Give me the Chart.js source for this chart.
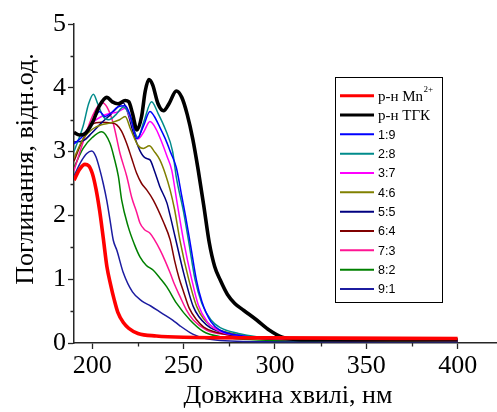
<!DOCTYPE html>
<html>
<head>
<meta charset="utf-8">
<script src="https://cdn.jsdelivr.net/npm/chart.js@4.4.1/dist/chart.umd.min.js"></script>
<style>
  html, body { margin: 0; padding: 0; background: #fff; }
  #wrap { width: 497px; height: 412px; }
</style>
</head>
<body>
<div id="wrap"><canvas id="c" width="497" height="412"></canvas></div>
<script>
// Absorption spectra of Mn2+ solution, TGK solution and their mixtures (ratios)
const seriesLabels = ['р-н Mn^2+', 'р-н ТГК', '1:9', '2:8', '3:7', '4:6', '5:5', '6:4', '7:3', '8:2', '9:1'];
const seriesColors = ['#ff0000', '#000000', '#0000ff', '#008b8b', '#ff00ff', '#808000', '#000080', '#800000', '#ff1493', '#008000', '#1c1ca0'];

const mnWl  = [190, 193, 196, 198, 200, 202, 204, 206, 208, 210, 212, 214, 217, 220, 225, 235, 250, 300, 400];
const mnAbs = [2.55, 2.72, 2.80, 2.78, 2.66, 2.42, 2.08, 1.65, 1.20, 0.92, 0.68, 0.48, 0.32, 0.23, 0.15, 0.11, 0.09, 0.08, 0.07];

const tgkWl  = [190, 193, 196, 200, 204, 208, 211, 214, 218, 220, 222, 224.5, 227, 229, 231, 233, 236, 239, 242, 246, 249, 252, 255, 258, 261, 264, 267, 270, 274, 278, 283, 290, 297, 304, 310, 320, 400];
const tgkAbs = [3.30, 3.26, 3.28, 3.45, 3.72, 3.85, 3.78, 3.75, 3.80, 3.78, 3.60, 3.34, 3.55, 3.95, 4.13, 4.05, 3.75, 3.64, 3.75, 3.95, 3.85, 3.58, 3.20, 2.71, 2.16, 1.58, 1.20, 0.99, 0.76, 0.62, 0.51, 0.36, 0.20, 0.09, 0.06, 0.05, 0.05];

const r19Wl  = [190, 195, 200, 204, 207, 210, 214, 218, 221, 224.5, 228, 231.6, 234, 237, 240, 243, 246, 249, 251, 254, 257, 260, 265, 270, 280, 300, 400];
const r19Abs = [3.12, 3.25, 3.45, 3.63, 3.55, 3.60, 3.70, 3.72, 3.55, 3.20, 3.40, 3.63, 3.55, 3.38, 3.20, 2.98, 2.75, 2.30, 2.00, 1.50, 0.99, 0.65, 0.33, 0.20, 0.12, 0.07, 0.04];

const r28Wl  = [190, 195, 198, 200.6, 203, 206, 209, 213, 217, 220, 225, 228, 232.5, 236, 240, 244, 246, 250, 253, 256.3, 260, 265, 270, 280, 290, 300, 400];
const r28Abs = [3.00, 3.40, 3.75, 3.90, 3.75, 3.55, 3.50, 3.58, 3.70, 3.60, 3.22, 3.45, 3.78, 3.60, 3.35, 3.00, 2.60, 2.05, 1.55, 0.99, 0.62, 0.36, 0.24, 0.15, 0.10, 0.08, 0.05];

const r37Wl  = [190, 193, 196, 200, 205, 210, 214, 218, 221, 225, 228, 231.6, 235, 238, 241, 243.5, 246.2, 250, 254.5, 258, 263, 270, 280, 300, 400];
const r37Abs = [3.30, 3.26, 3.30, 3.45, 3.55, 3.60, 3.62, 3.68, 3.50, 3.20, 3.30, 3.47, 3.35, 3.15, 2.92, 2.71, 2.24, 1.60, 0.99, 0.60, 0.33, 0.18, 0.12, 0.07, 0.04];

const r46Wl  = [190, 195, 200, 205, 210, 215, 218, 221, 225, 228, 231.2, 234, 237, 240, 242.6, 245, 248, 252.6, 257.2, 264.5, 277, 300, 400];
const r46Abs = [2.90, 3.20, 3.35, 3.42, 3.45, 3.50, 3.55, 3.35, 3.10, 3.05, 3.09, 3.00, 2.87, 2.65, 2.40, 2.10, 1.61, 1.02, 0.57, 0.28, 0.15, 0.07, 0.03];

const r55Wl  = [190, 195, 200, 205, 210, 214, 217, 219, 222.5, 226, 229, 231.6, 234, 237, 240.8, 242.6, 245.3, 250, 255.3, 262.7, 273.6, 300, 400];
const r55Abs = [3.15, 3.17, 3.30, 3.45, 3.58, 3.70, 3.76, 3.65, 3.29, 3.02, 2.90, 2.87, 2.70, 2.45, 2.20, 2.00, 1.67, 1.10, 0.57, 0.28, 0.15, 0.06, 0.03];

const r64Wl  = [190, 195, 200, 205, 210, 213.4, 216, 218.8, 221.5, 224.3, 227, 229.8, 233.4, 238.9, 242.6, 245, 247.5, 250, 253, 257.2, 261, 266.3, 281, 300, 400];
const r64Abs = [2.85, 3.20, 3.43, 3.46, 3.45, 3.42, 3.32, 3.13, 2.90, 2.66, 2.50, 2.40, 2.24, 1.90, 1.62, 1.30, 1.02, 0.80, 0.55, 0.36, 0.25, 0.18, 0.10, 0.06, 0.03];

const r73Wl  = [190, 195, 200, 205.2, 208, 211.5, 215.2, 218.9, 221.6, 224.3, 226.1, 228.5, 231.6, 234, 237.1, 240, 242.6, 245, 248, 251.5, 255.3, 262.7, 273.6, 300, 400];
const r73Abs = [2.70, 3.15, 3.55, 3.77, 3.70, 3.44, 2.97, 2.61, 2.28, 2.05, 1.88, 1.78, 1.72, 1.62, 1.46, 1.28, 1.10, 0.92, 0.73, 0.52, 0.36, 0.20, 0.13, 0.06, 0.03];

const r82Wl  = [190, 195, 200, 205.2, 209.7, 212, 214.3, 216.1, 219.7, 223, 226.1, 229.5, 233.4, 237, 240.8, 246.2, 253.5, 260.8, 270, 300, 400];
const r82Abs = [2.75, 3.05, 3.22, 3.31, 3.13, 2.90, 2.61, 2.24, 1.82, 1.55, 1.35, 1.22, 1.14, 1.02, 0.88, 0.62, 0.36, 0.18, 0.10, 0.04, 0.03];

const r91Wl  = [190, 194, 197, 199.7, 202, 204.2, 206, 207.9, 209.7, 211.5, 213.5, 217, 222, 227, 232, 238, 244, 248, 255, 262, 270, 300, 400];
const r91Abs = [2.62, 2.85, 2.97, 3.01, 2.92, 2.71, 2.50, 2.24, 1.93, 1.61, 1.45, 1.10, 0.80, 0.66, 0.58, 0.47, 0.36, 0.27, 0.14, 0.07, 0.04, 0.02, 0.02];

const xTickLabels = [200, 250, 300, 350, 400];
const yTickLabels = [0, 1, 2, 3, 4, 5];
const xTitle = 'Довжина хвилі, нм';
const yTitle = 'Поглинання, відн.од.';

const spectra = [
  [mnWl, mnAbs], [tgkWl, tgkAbs], [r19Wl, r19Abs], [r28Wl, r28Abs], [r37Wl, r37Abs],
  [r46Wl, r46Abs], [r55Wl, r55Abs], [r64Wl, r64Abs], [r73Wl, r73Abs], [r82Wl, r82Abs], [r91Wl, r91Abs]
];

const AXIS_COLOR = '#262626';
const SERIF = '"Liberation Serif", "Times New Roman", serif';
const SANS = '"Liberation Sans", Arial, sans-serif';

const datasets = spectra.map(([wl, ab], i) => ({
  label: seriesLabels[i],
  data: wl.map((x, k) => ({ x, y: ab[k] })),
  borderColor: seriesColors[i],
  backgroundColor: seriesColors[i],
  borderWidth: i < 2 ? 3.6 : 1.5,
  pointRadius: 0,
  fill: false,
  cubicInterpolationMode: 'monotone'
}));

// short outward minor ticks between the labelled ones
const minorTicks = {
  id: 'minorTicks',
  afterDraw(chart) {
    const { ctx, scales: { x, y } } = chart;
    ctx.save();
    ctx.strokeStyle = AXIS_COLOR;
    ctx.lineWidth = 1.3;
    ctx.beginPath();
    x.ticks.forEach(t => {
      if (!xTickLabels.includes(t.value)) {
        const px = Math.round(x.getPixelForValue(t.value)) + 0.5;
        ctx.moveTo(px, y.bottom); ctx.lineTo(px, y.bottom + 3.5);
      }
    });
    y.ticks.forEach(t => {
      if (!yTickLabels.includes(t.value)) {
        const py = Math.round(y.getPixelForValue(t.value)) + 0.5;
        ctx.moveTo(x.left, py); ctx.lineTo(x.left - 3.5, py);
      }
    });
    ctx.stroke();
    ctx.restore();
  }
};

// axis titles
const axisTitles = {
  id: 'axisTitles',
  afterDraw(chart) {
    const { ctx, chartArea } = chart;
    ctx.save();
    ctx.fillStyle = '#000';
    ctx.font = '26px ' + SERIF;
    ctx.textAlign = 'center';
    ctx.textBaseline = 'alphabetic';
    ctx.fillText(xTitle, (chartArea.left + chartArea.right) / 2 + 3, 403);
    ctx.translate(33, chartArea.top + 145);
    ctx.rotate(-Math.PI / 2);
    ctx.fillText(yTitle, 0, 0);
    ctx.restore();
  }
};

// framed legend box
const legendBox = {
  id: 'legendBox',
  afterDraw(chart) {
    const ctx = chart.ctx;
    const bx = 335, by = 77, bw = 107, bh = 225;
    const firstRow = 95.7, rowStep = 19.33;
    ctx.save();
    ctx.fillStyle = '#fff';
    ctx.fillRect(bx, by, bw, bh);
    ctx.strokeStyle = '#000';
    ctx.lineWidth = 1;
    ctx.strokeRect(bx + 0.5, by + 0.5, bw, bh);
    chart.data.datasets.forEach((ds, i) => {
      const yy = firstRow + i * rowStep;
      ctx.strokeStyle = ds.borderColor;
      ctx.lineWidth = i < 2 ? 3 : 2;
      ctx.beginPath();
      ctx.moveTo(340, yy); ctx.lineTo(374, yy);
      ctx.stroke();
      const [main, sup] = ds.label.split('^');
      ctx.fillStyle = '#000';
      ctx.textAlign = 'left';
      ctx.textBaseline = 'middle';
      if (main.startsWith('р-н')) {
        ctx.font = '15px ' + SERIF;
        ctx.fillText(main, 378, yy + 1);
        if (sup) {
          const w = ctx.measureText(main).width;
          ctx.font = '9px ' + SERIF;
          ctx.fillText(sup, 378 + w + 0.5, yy - 6);
        }
      } else {
        ctx.font = '12.5px ' + SANS;
        ctx.fillText(main, 378, yy + 1);
      }
    });
    ctx.restore();
  }
};

new Chart(document.getElementById('c'), {
  type: 'line',
  data: { datasets },
  plugins: [minorTicks, axisTitles, legendBox],
  options: {
    responsive: false,
    animation: false,
    devicePixelRatio: 1,
    layout: { padding: { top: 24, right: 1, left: 0, bottom: 0 } },
    plugins: { legend: { display: false }, tooltip: { enabled: false }, title: { display: false } },
    scales: {
      x: {
        type: 'linear',
        min: 190,
        max: 421,
        afterFit(scale) { scale.height = 69; },
        border: { display: true, color: AXIS_COLOR, width: 1.5 },
        grid: {
          display: true,
          drawOnChartArea: false,
          drawTicks: true,
          tickLength: 6,
          tickWidth: 1.3,
          tickColor: c => (c.tick && xTickLabels.includes(c.tick.value)) ? AXIS_COLOR : 'rgba(0,0,0,0)'
        },
        ticks: {
          stepSize: 25,
          includeBounds: false,
          autoSkip: false,
          maxRotation: 0,
          padding: 2,
          color: '#000',
          font: { family: SERIF, size: 26 },
          callback: v => xTickLabels.includes(v) ? String(v) : ''
        }
      },
      y: {
        type: 'linear',
        min: 0,
        max: 5,
        afterFit(scale) { scale.width = 74; },
        border: { display: true, color: AXIS_COLOR, width: 1.5 },
        grid: {
          display: true,
          drawOnChartArea: false,
          drawTicks: true,
          tickLength: 6,
          tickWidth: 1.3,
          tickColor: c => (c.tick && yTickLabels.includes(c.tick.value)) ? AXIS_COLOR : 'rgba(0,0,0,0)'
        },
        ticks: {
          stepSize: 0.5,
          autoSkip: false,
          padding: 2,
          color: '#000',
          font: { family: SERIF, size: 26 },
          callback: v => yTickLabels.includes(v) ? String(v) : ''
        }
      }
    }
  }
});
</script>
</body>
</html>
